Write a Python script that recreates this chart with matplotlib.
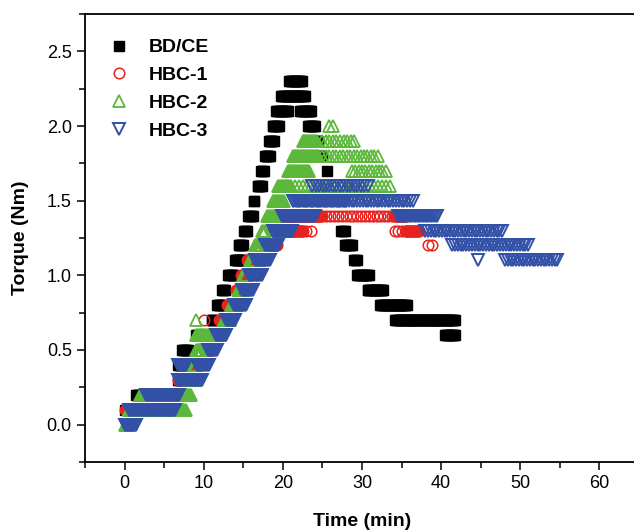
import numpy as np
import matplotlib
matplotlib.use("Agg")
import matplotlib.pyplot as plt
from matplotlib.markers import MarkerStyle

plt.rcParams['font.family'] = ['Liberation Sans', 'DejaVu Sans']

# Each run: torque level held between first and last sample time (min), logger step (min)
bdce_level = [0.1, 0.2, 0.3, 0.4, 0.5, 0.6, 0.7, 0.8, 0.9, 1.0, 1.1, 1.2, 1.3, 1.4, 1.5, 1.6, 1.7, 1.8, 1.9, 2.0, 2.1,
              2.2, 2.3, 2.1, 2.0, 1.9, 1.8, 1.7, 1.3, 1.2, 1.1, 1.0, 0.9, 0.8, 0.7, 0.6]
bdce_t0 = [0.0, 1.5, 6.7, 6.8, 7.3, 9.0, 11.0, 11.7, 12.3, 13.1, 13.9, 14.4, 15.1, 15.6, 16.3, 16.8, 17.2, 17.7, 18.2, 18.7, 19.1,
           19.8, 20.8, 22.2, 23.2, 24.1, 24.5, 25.6, 27.4, 27.9, 29.0, 29.4, 30.7, 32.3, 34.2, 40.5]
bdce_t1 = [0.0, 2.5, 7.2, 7.3, 8.0, 9.5, 11.3, 12.4, 12.7, 13.8, 15.0, 15.0, 15.5, 16.2, 16.4, 17.4, 17.6, 18.4, 18.9, 19.5, 20.6,
           22.8, 22.4, 23.6, 24.0, 24.5, 24.9, 25.6, 27.8, 28.7, 29.4, 30.9, 32.7, 35.7, 41.7, 41.7]
bdce_step = [0.12] * len(bdce_level)

hbc1_level = [0.1, 0.2, 0.3, 0.4, 0.5, 0.6, 0.7, 0.7, 0.8, 0.9, 1.0, 1.1, 1.2, 1.3, 1.3, 1.4, 1.4, 1.4, 1.3, 1.3, 1.2]
hbc1_t0 = [0.0, 6.0, 6.7, 7.7, 10.0, 10.5, 10.0, 11.9, 12.9, 14.1, 14.7, 15.5, 17.5, 18.7, 22.9, 20.0, 25.0, 34.0, 34.2, 35.5, 38.4]
hbc1_t1 = [6.0, 6.5, 8.0, 8.5, 11.0, 11.5, 10.0, 13.5, 14.5, 15.5, 16.0, 17.5, 19.3, 22.5, 23.5, 24.8, 33.8, 35.6, 35.0, 37.2, 38.8]
hbc1_step = [0.12, 0.12, 0.12, 0.12, 0.12, 0.12, 0.5, 0.12, 0.12, 0.12, 0.12, 0.12, 0.12, 0.12, 0.6, 0.12, 0.5, 0.12, 0.4, 0.12, 0.4]

hbc2_level = [0.0, 0.1, 0.2, 0.3, 0.4, 0.5, 0.6, 0.7, 0.7, 0.8, 0.9, 1.0, 1.1, 1.2, 1.3, 1.4, 1.5, 1.6, 1.6, 1.6,
              1.7, 1.7, 1.8, 1.8, 1.9, 1.9, 2.0]
hbc2_t0 = [0.0, 0.5, 2.0, 8.0, 8.5, 9.0, 9.0, 9.0, 12.5, 13.5, 14.3, 15.0, 15.9, 16.5, 17.4, 18.0, 18.8, 19.4, 21.5, 31.5,
           20.6, 28.7, 21.3, 25.0, 22.5, 25.0, 25.8]
hbc2_t1 = [0.5, 7.8, 8.4, 9.0, 9.0, 9.8, 12.0, 9.0, 13.3, 14.2, 15.0, 15.3, 16.5, 17.4, 17.8, 19.3, 20.1, 21.0, 31.0, 33.5,
           23.3, 33.0, 24.5, 32.0, 24.3, 29.0, 26.3]
hbc2_step = [0.12, 0.12, 0.12, 0.12, 0.12, 0.12, 0.12, 0.5, 0.12, 0.12, 0.12, 0.12, 0.12, 0.12, 0.12, 0.12, 0.12, 0.12, 0.5, 0.5,
             0.12, 0.45, 0.12, 0.45, 0.12, 0.45, 0.5]

hbc3_level = [0.0, 0.1, 0.2, 0.3, 0.4, 0.4, 0.5, 0.6, 0.7, 0.8, 0.9, 1.0, 1.1, 1.2, 1.3, 1.4, 1.5, 1.5, 1.6, 1.4,
              1.3, 1.2, 1.1, 1.1]
hbc3_t0 = [0.1, 0.6, 2.7, 6.8, 6.8, 9.1, 10.6, 11.5, 12.8, 13.8, 14.9, 15.7, 16.5, 17.8, 18.8, 19.9, 21.3, 28.0, 23.7, 34.6,
           38.0, 41.4, 44.6, 48.1]
hbc3_t1 = [1.4, 6.4, 6.9, 9.8, 7.7, 10.7, 11.7, 12.8, 14.0, 15.3, 16.2, 17.4, 18.4, 19.4, 21.2, 24.1, 28.0, 36.4, 30.7, 39.5,
           47.7, 51.0, 44.6, 54.7]
hbc3_step = [0.12] * 16 + [0.15, 0.35, 0.45, 0.2, 0.35, 0.35, 0.5, 0.35]

series = [
    ("BD/CE", bdce_level, bdce_t0, bdce_t1, bdce_step,
     dict(marker=MarkerStyle('s', joinstyle='miter'), color='black', mfc='black', mec='black', ms=7.0, mew=1.0)),
    ("HBC-1", hbc1_level, hbc1_t0, hbc1_t1, hbc1_step,
     dict(marker='o', color='#e8221e', mfc='none', mec='#e8221e', ms=7.6, mew=1.1)),
    ("HBC-2", hbc2_level, hbc2_t0, hbc2_t1, hbc2_step,
     dict(marker=MarkerStyle('^', joinstyle='miter'), color='#5cb83a', mfc='none', mec='#5cb83a', ms=8.0, mew=1.3)),
    ("HBC-3", hbc3_level, hbc3_t0, hbc3_t1, hbc3_step,
     dict(marker=MarkerStyle('v', joinstyle='miter'), color='#3150a6', mfc='none', mec='#3150a6', ms=8.0, mew=1.4)),
]

fig = plt.figure(figsize=(6.34, 5.3), dpi=100)
ax = fig.add_axes([85 / 634, 68 / 530, 554 / 634, 448 / 530])

for z, (name, lev, t0, t1, st, kw) in enumerate(series):
    xs, ys = [], []
    for L, a, b, s in zip(lev, t0, t1, st):
        n = max(1, int(round((b - a) / s)) + 1)
        tt = np.linspace(a, b, n)
        xs.extend(tt)
        ys.extend([L] * n)
    ax.plot(xs, ys, linestyle='none', label=name, zorder=2 + z, **kw)

ax.set_xlim(-5, 65)
ax.set_ylim(-0.25, 2.75)
ax.set_xticks(np.arange(0, 61, 10))
ax.set_xticks(np.arange(-5, 66, 5), minor=True)
ax.set_yticks(np.arange(0, 2.51, 0.5))
ax.set_yticks(np.arange(-0.25, 2.76, 0.25), minor=True)
ax.set_yticklabels([f"{v:.1f}" for v in np.arange(0, 2.51, 0.5)])
ax.tick_params(which='major', direction='out', length=5.5, width=1.1, labelsize=13, pad=4)
ax.tick_params(which='minor', direction='out', length=4, width=1.1)
for sp in ax.spines.values():
    sp.set_linewidth(1.3)

ax.set_xlabel("Time (min)", fontsize=14, fontweight='bold', labelpad=15)
ax.set_ylabel("Torque (Nm)", fontsize=14, fontweight='bold', labelpad=13)

leg = ax.legend(loc='upper left', bbox_to_anchor=(0.03, 0.962), frameon=False, numpoints=1,
                handlelength=1.0, handletextpad=1.0, labelspacing=0.52, borderaxespad=0.0,
                prop={'size': 14, 'weight': 'bold'})

fig.savefig("out.png", dpi=100)
